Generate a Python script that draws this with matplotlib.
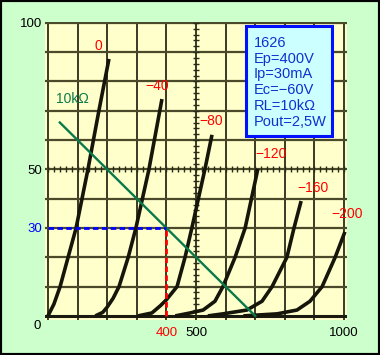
import numpy as np
import matplotlib.pyplot as plt

plt.rcParams['font.family'] = ['Liberation Sans', 'DejaVu Sans']

# Кривые анодного тока (Ea, В ; Ia, мА) для разных Ec
grid_labels = ["0", "\u221240", "\u221280", "\u2212120", "\u2212160", "\u2212200"]
curve_v = [
    [0, 20, 41, 68, 95, 135, 172, 206],
    [160, 185, 200, 220, 240, 271, 297, 341, 385],
    [304, 351, 380, 400, 436, 463, 486, 530, 554],
    [430, 480, 524, 564, 591, 632, 666, 709],
    [540, 591, 672, 723, 757, 807, 831, 855],
    [660, 774, 841, 885, 926, 970, 1003],
]
curve_i = [
    [0, 4, 10, 20, 30, 50, 70, 87.7],
    [0, 1.2, 3, 6, 10, 20, 30, 50, 74],
    [0, 1, 3.5, 5.5, 10, 20, 30, 50, 61.8],
    [0, 1, 2, 5, 10, 20, 30, 50.2],
    [0, 0.7, 2, 5, 10, 20, 30, 39.2],
    [0, 0.7, 2, 5, 10, 20, 28.7],
]
label_v = [169, 368, 551, 753, 895, 1010]
label_i = [92, 78.5, 66.6, 55.3, 43.7, 34.9]

# Нагрузочная прямая 10 кОм
load_v = [40, 700]
load_i = [66, 0]
ep = 400
ip = 30

info = ["1626", "Ep=400V", "Ip=30mA", "Ec=\u221260V", "RL=10k\u03a9", "Pout=2,5W"]

W, H = 380, 355
fig = plt.figure(figsize=(W / 100, H / 100), dpi=100, facecolor='#ccffcc')
ax = fig.add_axes([45 / W, 1 - 320 / H, 302 / W, 298 / H])
ax.set_facecolor('#ffffcc')
ax.set_xlim(-10, 1010)
ax.set_ylim(-1.4, 100.3)

# сетка
for v in range(0, 1001, 100):
    ax.axvline(v, color='#2a2a18', lw=1.3, zorder=1)
for i in range(10, 101, 10):
    ax.axhline(i, color='#4a4a2a', lw=1.6, zorder=1)
ax.axhline(0, color='#1a1a10', lw=2.2, zorder=1)

# линейки с делениями
ticks_x = np.arange(0, 1001, 20)
ax.plot(ticks_x, np.full(len(ticks_x), 50), ls='none', marker='|', ms=5, mew=1, color='#2a2a18', zorder=1)
ticks_y = np.arange(0, 101, 2)
ax.plot(np.full(len(ticks_y), 500), ticks_y, ls='none', marker='_', ms=5, mew=1, color='#2a2a18', zorder=1)

for v, i in zip(curve_v, curve_i):
    ax.plot(v, i, color='#15150a', lw=2.6, solid_capstyle='butt', solid_joinstyle='round', zorder=3)
for lab, x, y in zip(grid_labels, label_v, label_i):
    ax.text(x, y, lab, color='red', fontsize=10, ha='center', va='center', clip_on=False, zorder=5)

ax.plot(load_v, load_i, color='#0a7a4a', lw=1.7, zorder=4)
ax.text(81, 74, "10k\u03a9", color='#0a7a4a', fontsize=10, ha='center', va='center')

ax.plot([0, ep], [ip, ip], color='#0000ff', lw=2, ls=(0, (2, 1.2)), zorder=4)
ax.plot([ep, ep], [0, ip], color='#ff0000', lw=2, ls=(0, (2, 1.2)), zorder=4)

# оси
for s in ax.spines.values():
    s.set_visible(False)
ax.set_yticks([30, 50, 100])
ax.set_yticklabels(["30", "50", "100"], fontsize=9.5)
ax.set_xticks([400, 500, 1000])
ax.set_xticklabels(["400", "500", "1000"], fontsize=9.5)
ax.tick_params(length=0, pad=2)
ax.tick_params(axis='x', pad=5)
ax.get_yticklabels()[0].set_color('#0000ff')
ax.get_xticklabels()[0].set_color('red')
ax.text(-35, -3.5, "0", fontsize=9.5, ha='center', va='center', clip_on=False)

# таблица параметров
fig.patches.append(plt.Rectangle((246 / W, 1 - 136 / H), 86 / W, 110 / H, transform=fig.transFigure,
                                 fc='#ccffff', ec='#0010ff', lw=2.2, zorder=6))
for k, line in enumerate(info):
    fig.text(254 / W, 1 - (47 + 15.7 * k) / H, line, fontsize=10.5, color='#1030d0',
             ha='left', va='baseline', zorder=7)

fig.patches.append(plt.Rectangle((0, 0), 1, 1, transform=fig.transFigure, fill=False,
                                 ec='black', lw=3, zorder=10))
fig.savefig('out.png', dpi=100, facecolor=fig.get_facecolor())
